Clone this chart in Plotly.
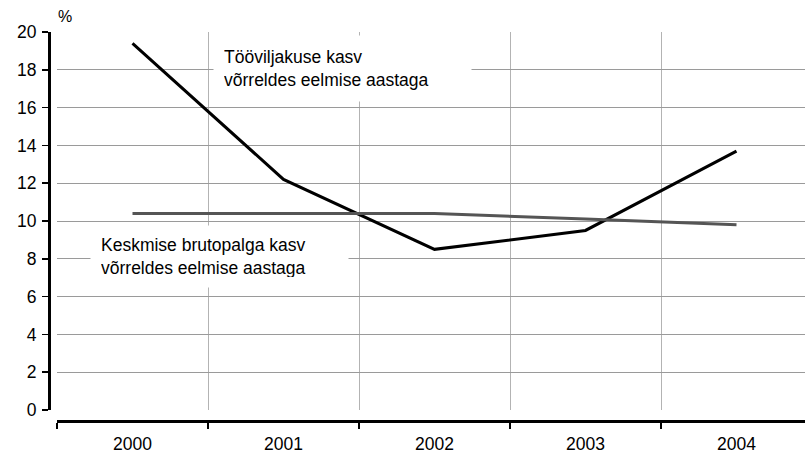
import plotly.graph_objects as go

years = ["2000", "2001", "2002", "2003", "2004"]
productivity = [19.4, 12.2, 8.5, 9.5, 13.7]
wages = [10.4, 10.4, 10.4, 10.1, 9.8]
y_ticks = [0, 2, 4, 6, 8, 10, 12, 14, 16, 18, 20]

W, H = 805, 454
FONT = "Liberation Sans, Arial, sans-serif"
xs = list(range(len(years)))
bounds = [i - 0.5 for i in range(len(years))]

fig = go.Figure()
fig.add_trace(go.Scatter(x=xs, y=productivity, mode="lines",
                         line=dict(color="#000000", width=3), showlegend=False,
                         hoverinfo="skip"))
fig.add_trace(go.Scatter(x=xs, y=wages, mode="lines",
                         line=dict(color="#555555", width=3), showlegend=False,
                         hoverinfo="skip"))

xdom = [57 / W, 1]
xr = [-0.5, -0.5 + (W - 57) / 151.0]
axis_pos = (H - 421) / H

fig.update_layout(
    width=W, height=H,
    margin=dict(l=0, r=0, t=0, b=0, autoexpand=False),
    paper_bgcolor="white", plot_bgcolor="white",
    font=dict(family=FONT, size=17.5, color="black"),
    xaxis=dict(domain=xdom, range=xr, tickvals=bounds, showticklabels=False,
               ticks="", showgrid=True, gridcolor="#b3b3b3", gridwidth=1,
               showline=False, zeroline=False, anchor="y", automargin=False),
    yaxis=dict(domain=[(H - 410) / H, (H - 32) / H], range=[0, 20],
               tickvals=y_ticks, showgrid=True, gridcolor="#9a9a9a", gridwidth=1,
               zeroline=False, anchor="free", position=49 / W,
               showline=True, linecolor="black", linewidth=2.5,
               ticks="outside", ticklen=6, tickwidth=1.5, tickcolor="black",
               ticklabelstandoff=2, automargin=False),
    xaxis2=dict(domain=xdom, range=xr, overlaying="x", anchor="free",
                position=axis_pos, tickvals=bounds, showticklabels=False,
                ticks="outside", ticklen=6, tickwidth=1.5, tickcolor="black",
                showline=True, linecolor="black", linewidth=2.5,
                showgrid=False, zeroline=False, automargin=False),
    xaxis3=dict(domain=xdom, range=xr, overlaying="x", anchor="free",
                position=axis_pos, tickvals=xs, ticktext=years,
                ticks="", showline=False, showgrid=False, zeroline=False,
                ticklabelstandoff=10, automargin=False),
)
fig.add_trace(go.Scatter(x=[], y=[], xaxis="x2", showlegend=False))
fig.add_trace(go.Scatter(x=[], y=[], xaxis="x3", showlegend=False))

fig.add_annotation(text="%", xref="paper", yref="paper", x=65 / W, y=(H - 17) / H,
                   xanchor="center", yanchor="middle", showarrow=False,
                   font=dict(size=16))
fig.add_annotation(text="Tööviljakuse kasv<br>võrreldes eelmise aastaga",
                   xref="paper", yref="paper", x=213 / W, y=(H - 35) / H,
                   xanchor="left", yanchor="top", showarrow=False, align="left",
                   bgcolor="white", borderpad=10, width=237, height=45,
                   font=dict(size=17.5))
fig.add_annotation(text="Keskmise brutopalga kasv<br>võrreldes eelmise aastaga",
                   xref="paper", yref="paper", x=90 / W, y=(H - 225) / H,
                   xanchor="left", yanchor="top", showarrow=False, align="left",
                   bgcolor="white", borderpad=10, width=237, height=41,
                   font=dict(size=17.5))

fig.write_html("out.html",
               config={"displayModeBar": False, "staticPlot": True},
               post_script="document.body.style.margin='0';"
                           "document.body.style.overflow='hidden';")
